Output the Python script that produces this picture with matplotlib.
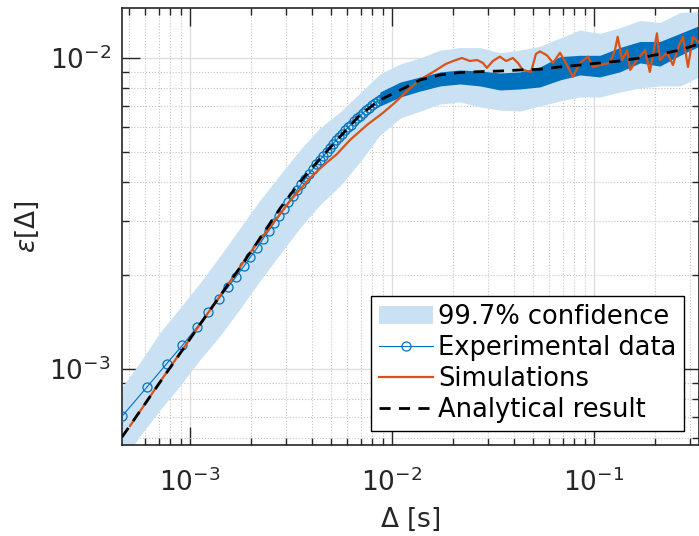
import numpy as np
import matplotlib
matplotlib.use("Agg")
import matplotlib.pyplot as plt
from matplotlib.ticker import LogLocator, NullFormatter

# lag values in ms, epsilon values in units of 1e-3
grid_ms = [0.461, 0.566, 0.71, 0.892, 1.12, 1.41, 1.77, 2.22, 2.79, 3.5, 4.4, 5.53, 6.94, 8.72, 11,
           13.8, 17.3, 21.7, 27.3, 34.2, 43, 54, 67.9, 85.2, 107, 134, 169, 212, 267, 331]
analytic_eps = [0.604, 0.732, 0.906, 1.12, 1.39, 1.72, 2.12, 2.63, 3.28, 3.99, 4.74, 5.58, 6.56, 7.33, 7.89,
                8.5, 8.82, 8.98, 9.04, 9.08, 9.15, 9.2, 9.36, 9.49, 9.64, 9.78, 10, 10.3, 10.6, 11.1]
conf_hi = [0.875, 1.05, 1.31, 1.57, 1.89, 2.31, 2.84, 3.49, 4.21, 5.06, 5.96, 6.7, 7.72, 8.88, 9.57,
           10, 10.6, 10.8, 10.8, 10.4, 10.6, 10.9, 11.6, 12.3, 12, 12.5, 13.2, 13, 14, 14.1]
conf_lo = [0.502, 0.609, 0.738, 0.882, 1.07, 1.28, 1.56, 1.92, 2.34, 2.84, 3.37, 3.88, 4.63, 5.65, 6.41,
           6.75, 7.11, 7.22, 6.96, 6.8, 6.75, 7.01, 7.27, 7.49, 7.49, 7.77, 8.01, 8.13, 8.13, 8.69]

# dense part of the experimental data, where the markers merge into a band
dense_ms = [8.72, 11, 13.8, 17.3, 21.7, 27.3, 34.2, 43, 54, 67.9, 85.2, 107, 134, 169, 212, 267, 331]
dense_hi = [7.77, 8.37, 8.69, 9.02, 9.15, 9.08, 8.95, 9.02, 9.36, 10.1, 10.2, 10.2, 10.8, 11.3, 11.3, 12, 12.7]
dense_lo = [7.01, 7.49, 7.83, 8.13, 8.25, 8.13, 7.89, 7.95, 8.07, 8.5, 8.82, 8.69, 9.02, 9.64, 9.42, 10.2, 10.9]

exp_ms = [0.462, 0.615, 0.767, 0.916, 1.08, 1.23, 1.39, 1.54, 1.69, 1.85, 1.99, 2.15, 2.3, 2.45, 2.61,
          2.76, 2.92, 3.07, 3.24, 3.39, 3.54, 3.71, 3.88, 4.06, 4.23, 4.4, 4.58, 4.77, 4.93, 5.1, 5.28,
          5.47, 5.66, 5.85, 6.06, 6.27, 6.48, 6.71, 6.94, 7.19, 7.44, 7.69, 7.96, 8.24, 8.52, 8.82, 9.13,
          9.45, 9.77]
exp_eps = [0.706, 0.877, 1.04, 1.19, 1.36, 1.52, 1.68, 1.83, 1.98, 2.14, 2.29, 2.45, 2.62, 2.78, 2.95,
           3.1, 3.27, 3.44, 3.6, 3.76, 3.92, 4.08, 4.24, 4.4, 4.55, 4.7, 4.84, 5, 5.15, 5.29, 5.43,
           5.57, 5.7, 5.85, 5.98, 6.11, 6.25, 6.39, 6.51, 6.66, 6.78, 6.91, 7.04, 7.17, 7.27, 7.38, 7.49,
           7.6, 7.72]

sim_ms = [0.505, 0.71, 1, 1.41, 1.98, 2.49, 3.13, 3.93, 4.55, 5.34, 6.2, 7.52, 9.02, 10.3, 11.6, 13, 14.2, 16,
          18.5, 20.7, 22.2, 24.3, 26.4, 28.2, 29.5, 31.6, 34.2, 36.7, 39.7, 42, 44.5, 48.8, 51.6, 54, 58.5, 62.7,
          67.9, 73.5, 78.7, 85.2, 93.4, 98.9, 107, 120, 127, 131, 138, 146, 151, 163, 179, 189, 205, 212, 230,
          246, 261, 276, 292, 309, 331]
sim_eps = [0.656, 0.908, 1.25, 1.72, 2.36, 2.86, 3.47, 4.11, 4.5, 4.91, 5.45, 6.09, 6.66, 7.17, 7.72, 8.25, 8.62,
           9.02, 9.57, 9.85, 10, 9.78, 9.85, 9.64, 9.29, 9.78, 10.1, 9.78, 10, 9.64, 9.15, 9.02, 10.3, 10.5, 10.2,
           9.64, 10.4, 9.49, 8.69, 9.64, 10.1, 9.36, 9.49, 9.64, 10.6, 11.7, 9.85, 10.6, 9.15, 9.85, 10.6, 9.02,
           12, 9.85, 10.4, 9.49, 10.8, 11.7, 9.36, 11.7, 11.2]

BLUE = "#0072BD"
ORANGE = "#D95319"
LIGHT = "#C9E1F2"
AX = "#262626"


def sec(a):
    return np.asarray(a, float) * 1e-3


def eps(a):
    return np.asarray(a, float) * 1e-3


fig = plt.figure(figsize=(6.99, 5.36), dpi=100)
ax = fig.add_axes([0.1745, 0.1698, 0.8248, 0.8153])
ax.set_xscale("log")
ax.set_yscale("log")

ax.fill_between(sec(grid_ms), eps(conf_lo), eps(conf_hi), color=LIGHT, lw=0,
                label="99.7% confidence", zorder=1)
ax.fill_between(sec(dense_ms), eps(dense_lo), eps(dense_hi), color=BLUE, lw=0, zorder=2)
ax.plot(sec(exp_ms), eps(exp_eps), color=BLUE, lw=0.8, marker="o", ms=6.5, mfc="none", mew=0.9,
        label="Experimental data", zorder=3)
ax.plot(sec(sim_ms), eps(sim_eps), color=ORANGE, lw=1.6, label="Simulations", zorder=4)
ax.plot(sec(grid_ms), eps(analytic_eps), color="black", lw=2.0, ls=(0, (4, 3)),
        label="Analytical result", zorder=5)

ax.set_xlim(4.607e-4, 0.3292)
ax.set_ylim(5.695e-4, 1.448e-2)
for a in (ax.xaxis, ax.yaxis):
    a.set_minor_locator(LogLocator(base=10, subs=np.arange(2, 10), numticks=20))
    a.set_minor_formatter(NullFormatter())
ax.grid(True, which="major", color="#dcdcdc", lw=0.9, ls="-")
ax.grid(True, which="minor", color="#c4c4c4", lw=0.8, ls=":")
ax.set_axisbelow(True)
ax.tick_params(which="both", direction="in", top=True, right=True, color=AX, width=1.0,
               labelsize=19, labelcolor=AX)
ax.tick_params(which="major", length=13)
ax.tick_params(which="minor", length=5)
ax.tick_params(axis="x", pad=17)
ax.tick_params(axis="y", pad=8)
for s in ax.spines.values():
    s.set_color(AX)
    s.set_linewidth(1.2)

ax.set_xlabel(r"$\Delta$ [s]", fontsize=19, color=AX, labelpad=6)
ax.set_ylabel(r"$\varepsilon[\Delta]$", fontsize=19, color=AX, labelpad=6)

leg = ax.legend(loc="lower right", bbox_to_anchor=(0.975, 0.032), borderaxespad=0, fontsize=18.5,
                labelspacing=0.2, handlelength=2.1, handletextpad=0.2, borderpad=0.3,
                fancybox=False, framealpha=1, edgecolor="black")
leg.get_frame().set_linewidth(1.0)

fig.savefig("out.png", dpi=100)
